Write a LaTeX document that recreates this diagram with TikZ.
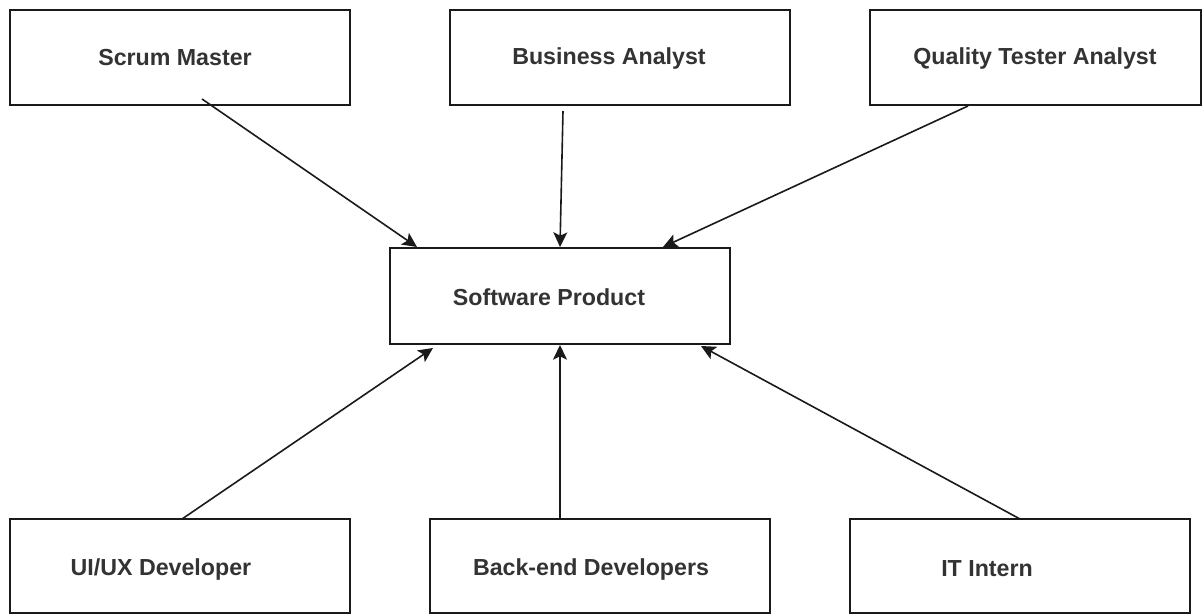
\documentclass[tikz,border=0pt]{standalone}
\usepackage{fontspec}
\setmainfont{Liberation Sans}
\usetikzlibrary{arrows.meta}
\definecolor{txt}{HTML}{333333}
\definecolor{edge}{HTML}{1A1A1A}
\begin{document}
\begin{tikzpicture}[x=0.75pt,y=-0.75pt,
  box/.style={draw=edge,line width=1.5pt,fill=white,inner sep=0pt,minimum width=255pt,minimum height=71.25pt},
  lbl/.style={text=txt,font=\fontsize{17.4}{20}\selectfont\bfseries,inner sep=0pt},
  link/.style={draw=edge,line width=1.2pt,-{Stealth[length=11pt,width=10.5pt,inset=2.5pt]}}]
\useasboundingbox (0,0) rectangle (1204,615);
% boxes
\node[box] (smB) at (180,57.5) {};
\node[box] (baB) at (620,57.5) {};
\node[box,minimum width=248.25pt] (qtB) at (1035.5,57.5) {};
\node[box,minimum height=72pt] (spB) at (560,296) {};
\node[box,minimum height=70.5pt] (uiB) at (180,566) {};
\node[box,minimum height=70.5pt] (beB) at (600,566) {};
\node[box,minimum height=70.5pt] (itB) at (1020,566) {};
% labels
\node[lbl] (sm) at (175,58) {Scrum Master};
\node[lbl] (ba) at (609,58) {Business Analyst};
\node[lbl] (qt) at (1035,58) {Quality Tester Analyst};
\node[lbl] (sp) at (549,297) {Software Product};
\node[lbl] (ui) at (161,569) {UI/UX Developer};
\node[lbl] (be) at (591,569) {Back-end Developers};
\node[lbl] (it) at (987,569) {IT Intern};
% connector end points
\coordinate (smS) at (202,99);
\coordinate (baS) at (563,111);
\coordinate (qtS) at (968,106);
\coordinate (uiS) at (182,519);
\coordinate (beS) at (560,519);
\coordinate (itS) at (1020,519);
\coordinate (spA) at (417,247);
\coordinate (spB2) at (560,247);
\coordinate (spC) at (663,247);
\coordinate (spD) at (433,348);
\coordinate (spE) at (560,345);
\coordinate (spF) at (701,346);
% connectors
\draw[link] (smS) -- (spA);
\draw[link] (baS) -- (spB2);
\draw[link] (qtS) -- (spC);
\draw[link] (uiS) -- (spD);
\draw[link] (beS) -- (spE);
\draw[link] (itS) -- (spF);
\end{tikzpicture}
\end{document}
